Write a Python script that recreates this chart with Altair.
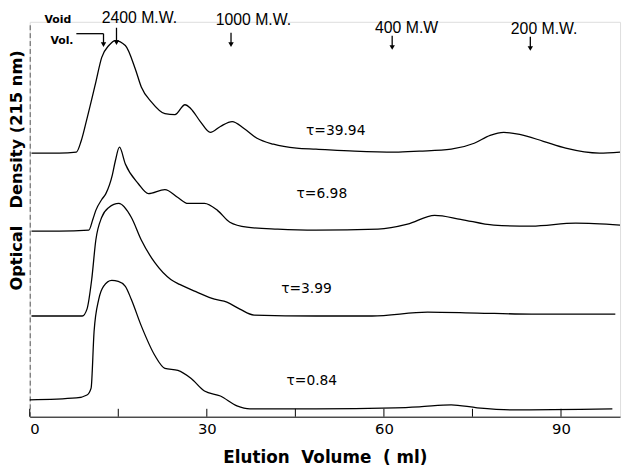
import altair as alt
import pandas as pd

# Trace data (elution volume in ml, optical density in arbitrary offset units)
x1 = [0.3, 5, 7.9, 8.7, 9.7, 11.2, 12.2, 13.4, 14.5, 16.2, 17.9, 18.9, 20.6, 22.9, 24.6, 26.3, 27.3, 28.9,
      30.6, 32.3, 34.3, 36.3, 38.5, 41.3, 45.2, 48.5, 55, 61.9, 66, 71.4, 75.3, 78, 80.3, 83, 87, 90.8, 96.5, 100]
y1 = [267, 267, 268, 279, 302, 339, 364, 376, 381, 376, 352, 334, 319, 307, 306, 316, 312, 299,
      288, 294, 299, 292, 282, 276, 272, 271, 269, 268, 269, 271, 277, 285, 288, 286, 279, 272, 267, 268]

x2 = [0.3, 5, 10.0, 10.7, 11.2, 12.2, 12.9, 14.0, 14.5, 15.2, 16.2, 18.4, 20.1, 22.9, 25.1, 26.8, 29.6, 31.8,
      33.9, 36.8, 42, 48.5, 59, 64, 68.6, 73, 78.6, 85, 92.5, 100]
y2 = [188, 188, 189, 200, 209, 220, 226, 245, 259, 273, 256, 236, 226, 230, 222, 216, 216, 209,
      197, 192, 190, 189, 190, 195, 204, 200, 194, 193, 196, 194]

x3 = [0.3, 8.9, 9.7, 10.5, 11.2, 12.2, 13.4, 15.1, 17.2, 18.9, 21.2, 23.9, 25.4, 28.4, 31.3, 33.4, 35.6, 38,
      48.5, 58, 67.4, 75.8, 85, 99.2]
y3 = [102, 102, 109, 139, 179, 202, 212, 216, 202, 179, 156, 139, 134, 126, 119, 116, 109, 103,
      102, 102, 106, 105, 104, 104]

x4 = [0, 7.9, 9.7, 10.4, 10.9, 11.7, 12.5, 13.9, 15, 16.2, 17.2, 18.9, 21.2, 22.9, 25.1, 27.3, 29.6, 32.3,
      35.1, 37.3, 48.5, 61.9, 66, 71.4, 75.8, 81.4, 98.7]
y4 = [17, 19, 22, 29, 86, 119, 132, 138, 137, 132, 119, 92, 62, 49, 47, 39, 26, 21,
      11, 8, 8, 9, 10, 12, 9, 7, 8]

traces = ["39.94", "6.98", "3.99", "0.84"]

# Trace labels
tau_labels = ["τ=39.94", "τ=6.98", "τ=3.99", "τ=0.84"]
tau_x = [46.8, 45.2, 42.6, 43.5]
tau_y = [289, 226, 129, 36]

# Molecular weight markers
mw_labels = ["2400 M.W.", "1000 M.W.", "400 M.W", "200 M.W."]
mw_text_x = [12.2, 31.5, 58.5, 81.5]
mw_text_y = [404, 402, 394, 393]
mw_arrow_x = [14.7, 34.1, 61.4, 84.8]
mw_arrow_top = [394, 389, 386, 385]
mw_arrow_bot = [379, 377, 374, 373]

x_ticks = [0, 30, 60, 90]
x_minor = [15, 45, 75]

rows = []
for name, xs, ys in zip(traces, [x1, x2, x3, x4], [y1, y2, y3, y4]):
    for xv, yv in zip(xs, ys):
        rows.append({"trace": name, "vol": xv, "od": yv})
df = pd.DataFrame(rows)

xscale = alt.Scale(domain=[0, 100], nice=False, zero=False)
yscale = alt.Scale(domain=[0, 400], nice=False, zero=False)

lines = alt.Chart(df).mark_line(color="black", strokeWidth=1.3, interpolate="monotone").encode(
    x=alt.X("vol:Q", scale=xscale,
            axis=alt.Axis(values=x_ticks, ticks=False, grid=False, labelFontSize=15, labelColor="black",
                          labelFont="DejaVu Sans", labelPadding=5, domainColor="black",
                          title="Elution\u00a0\u00a0Volume\u00a0\u00a0(\u00a0ml)", titleFont="DejaVu Sans",
                          titleFontSize=17, titleFontWeight="bold", titleColor="black", titlePadding=13)),
    y=alt.Y("od:Q", scale=yscale,
            axis=alt.Axis(ticks=False, labels=False, grid=False, domainColor="#555", domainDash=[5, 3],
                          title="Optical\u00a0\u00a0\u00a0Density\u00a0(215 nm)", titleFont="DejaVu Sans",
                          titleFontSize=16.5, titleFontWeight="bold", titleColor="black",
                          titleX=-5, titleY=150)),
    detail="trace:N",
)

tick_df = pd.DataFrame({"t": x_ticks + x_minor})
tick_marks = alt.Chart(tick_df).mark_rule(color="black", strokeWidth=1).encode(
    x=alt.X("t:Q", scale=xscale), y=alt.value(400), y2=alt.value(392)
)

tau_df = pd.DataFrame({"label": tau_labels, "x": tau_x, "y": tau_y})
tau_text = alt.Chart(tau_df).mark_text(align="left", baseline="middle", fontSize=14, font="DejaVu Sans",
                                       color="black").encode(
    x=alt.X("x:Q", scale=xscale), y=alt.Y("y:Q", scale=yscale), text="label:N"
)

mw_df = pd.DataFrame({"label": mw_labels, "x": mw_text_x, "y": mw_text_y,
                      "ax": mw_arrow_x, "top": mw_arrow_top, "bot": mw_arrow_bot})
mw_text = alt.Chart(mw_df).mark_text(align="left", baseline="middle", fontSize=16, font="Liberation Sans",
                                     color="black").encode(
    x=alt.X("x:Q", scale=xscale), y=alt.Y("y:Q", scale=yscale), text="label:N"
)
mw_shaft = alt.Chart(mw_df).mark_rule(color="black", strokeWidth=1.3).encode(
    x=alt.X("ax:Q", scale=xscale), y=alt.Y("top:Q", scale=yscale), y2="bot:Q"
)
mw_head = alt.Chart(mw_df).mark_point(shape="triangle-down", filled=True, color="black", size=30,
                                      opacity=1).encode(
    x=alt.X("ax:Q", scale=xscale), y=alt.Y("bot:Q", scale=yscale)
)

# Void volume annotation
void_lines = ["Void", "Vol."]
void_x = [2.5, 3.5]
void_y = [402, 381]
void_df = pd.DataFrame({"label": void_lines, "x": void_x, "y": void_y})
void_text = alt.Chart(void_df).mark_text(align="left", baseline="middle", fontSize=11, fontWeight="bold",
                                         font="DejaVu Sans", color="black").encode(
    x=alt.X("x:Q", scale=xscale), y=alt.Y("y:Q", scale=yscale), text="label:N"
)
void_arrow_df = pd.DataFrame({"x": [7.9], "x2": [12.5], "y": [388], "yb": [377]})
void_h = alt.Chart(void_arrow_df).mark_rule(color="black", strokeWidth=1.3).encode(
    x=alt.X("x:Q", scale=xscale), x2="x2:Q", y=alt.Y("y:Q", scale=yscale)
)
void_v = alt.Chart(void_arrow_df).mark_rule(color="black", strokeWidth=1.3).encode(
    x=alt.X("x2:Q", scale=xscale), y=alt.Y("y:Q", scale=yscale), y2="yb:Q"
)
void_head = alt.Chart(void_arrow_df).mark_point(shape="triangle-down", filled=True, color="black", size=30,
                                                opacity=1).encode(
    x=alt.X("x2:Q", scale=xscale), y=alt.Y("yb:Q", scale=yscale)
)

chart = alt.layer(lines, tick_marks, tau_text, mw_text, mw_shaft, mw_head, void_text, void_h, void_v,
                  void_head).properties(
    width=598, height=400,
    autosize=alt.AutoSizeParams(type="none"),
    padding={"left": 22, "top": 11, "right": 3, "bottom": 52},
).configure_view(stroke=None).configure(background="white")

chart.save("out.html", embed_options={"renderer": "svg", "actions": False})
